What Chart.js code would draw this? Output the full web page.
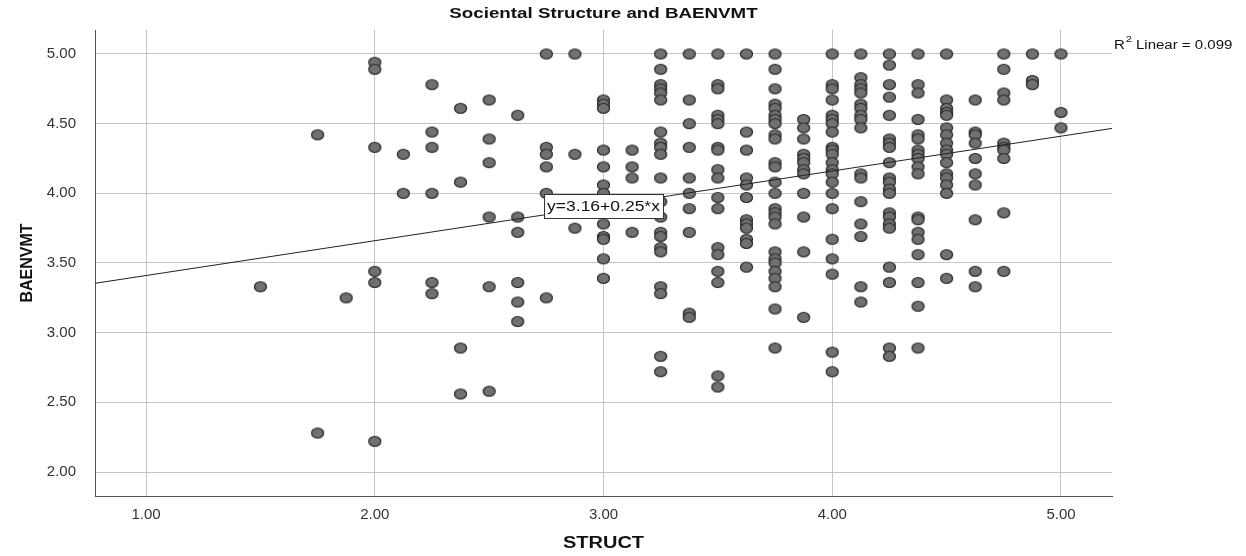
<!DOCTYPE html>
<html lang="en">
<head>
    <meta charset="UTF-8">
    <title>Sociental Structure and BAENVMT</title>
    <script src="https://cdn.jsdelivr.net/npm/chart.js"></script>
    <style>
        body { margin: 0; background: #ffffff; }
        canvas { display: block; }
    </style>
</head>
<body>
    <canvas id="grafico" width="1246" height="556"></canvas>

    <script>
        // STRUCT levels and the BAENVMT scores seen at each level
        const structLevels = [1.5, 1.75, 1.875, 2.0, 2.125, 2.25, 2.375, 2.5, 2.625, 2.75, 2.875,
            3.0, 3.125, 3.25, 3.375, 3.5, 3.625, 3.75, 3.875, 4.0, 4.125, 4.25, 4.375, 4.5,
            4.625, 4.75, 4.875, 5.0];
        const baenvmtByLevel = [
            [3.33],
            [4.42, 2.28],
            [3.25],
            [4.94, 4.89, 4.33, 3.44, 3.36, 2.22],
            [4.28, 4.00],
            [4.78, 4.44, 4.33, 4.00, 3.36, 3.28],
            [4.61, 4.08, 2.89, 2.56],
            [4.67, 4.39, 4.22, 3.83, 3.33, 2.58],
            [4.56, 3.83, 3.72, 3.36, 3.22, 3.08],
            [5.00, 4.33, 4.28, 4.19, 4.00, 3.25],
            [5.00, 4.28, 3.75],
            [4.67, 4.64, 4.61, 4.31, 4.19, 4.06, 4.00, 3.78, 3.69, 3.67, 3.53, 3.39],
            [4.31, 4.19, 4.11, 3.72],
            [5.00, 4.89, 4.78, 4.75, 4.72, 4.67, 4.44, 4.36, 4.33, 4.28, 4.11, 3.94, 3.83, 3.72, 3.69, 3.61, 3.58, 3.33, 3.28, 2.83, 2.72],
            [5.00, 4.67, 4.50, 4.33, 4.11, 4.00, 3.89, 3.72, 3.14, 3.11],
            [5.00, 4.78, 4.75, 4.56, 4.53, 4.50, 4.33, 4.31, 4.17, 4.11, 3.97, 3.89, 3.61, 3.56, 3.44, 3.36, 2.69, 2.61],
            [5.00, 4.44, 4.31, 4.11, 4.06, 3.97, 3.81, 3.78, 3.75, 3.67, 3.64, 3.47],
            [5.00, 4.89, 4.75, 4.64, 4.61, 4.56, 4.53, 4.50, 4.42, 4.39, 4.22, 4.19, 4.08, 4.00, 3.89, 3.86, 3.83, 3.78, 3.58, 3.53, 3.50, 3.44, 3.39, 3.33, 3.17, 2.89],
            [4.53, 4.47, 4.39, 4.28, 4.25, 4.22, 4.17, 4.14, 4.00, 3.83, 3.58, 3.11],
            [5.00, 4.78, 4.75, 4.67, 4.56, 4.53, 4.50, 4.44, 4.33, 4.31, 4.28, 4.22, 4.17, 4.14, 4.08, 4.00, 3.89, 3.67, 3.53, 3.42, 2.86, 2.72],
            [5.00, 4.83, 4.78, 4.75, 4.72, 4.64, 4.61, 4.56, 4.53, 4.47, 4.14, 4.11, 3.94, 3.78, 3.69, 3.33, 3.22],
            [5.00, 4.92, 4.78, 4.69, 4.56, 4.39, 4.36, 4.33, 4.22, 4.11, 4.08, 4.03, 4.00, 3.86, 3.83, 3.78, 3.75, 3.47, 3.36, 2.89, 2.83],
            [5.00, 4.78, 4.72, 4.53, 4.42, 4.39, 4.31, 4.28, 4.25, 4.19, 4.14, 3.83, 3.81, 3.72, 3.67, 3.56, 3.36, 3.19, 2.89],
            [5.00, 4.67, 4.61, 4.58, 4.56, 4.47, 4.42, 4.36, 4.31, 4.28, 4.22, 4.14, 4.11, 4.06, 4.00, 3.56, 3.39],
            [4.67, 4.44, 4.42, 4.36, 4.25, 4.14, 4.06, 3.81, 3.44, 3.33],
            [5.00, 4.89, 4.72, 4.67, 4.36, 4.33, 4.31, 4.25, 3.86, 3.44],
            [5.00, 4.81, 4.78],
            [5.00, 4.58, 4.47]
        ];

        // fit line as printed on the chart
        const intercept = 3.16;
        const slope = 0.25;
        const rSquared = 0.099;

        const xTicks = [1, 2, 3, 4, 5];
        const yTicks = [2.0, 2.5, 3.0, 3.5, 4.0, 4.5, 5.0];
        const xMin = 0.777, xMax = 5.223;
        const yMin = 1.828, yMax = 5.172;

        let puntos = [];
        structLevels.forEach((x, i) => {
            baenvmtByLevel[i].forEach(y => puntos.push({ x: x, y: y }));
        });
        let recta = [xMin, xMax].map(x => ({ x: x, y: intercept + slope * x }));

        const fuente = "Arial, 'Liberation Sans', sans-serif";
        const estirar = 1.25; // the original export is stretched sideways

        // slightly wide dot like the SPSS marker
        let marca = document.createElement("canvas");
        marca.width = 15;
        marca.height = 13;
        let mc = marca.getContext("2d");
        mc.beginPath();
        mc.ellipse(7.5, 6.5, 6, 5, 0, 0, Math.PI * 2);
        mc.fillStyle = "#707070";
        mc.fill();
        mc.lineWidth = 1.2;
        mc.strokeStyle = "#262626";
        mc.stroke();

        function texto(ctx, t, x, y, font, align) {
            ctx.save();
            ctx.font = font;
            ctx.textAlign = align || "center";
            ctx.textBaseline = "middle";
            ctx.translate(x, y);
            ctx.scale(estirar, 1);
            ctx.fillText(t, 0, 0);
            ctx.restore();
        }

        const textos = {
            id: "textos",
            afterDatasetsDraw(chart) {
                let ctx = chart.ctx;
                let xs = chart.scales.x, ys = chart.scales.y;
                ctx.save();

                // equation label sitting on the line at x = 3
                let ex = xs.getPixelForValue(3);
                let ey = ys.getPixelForValue(intercept + slope * 3);
                let eq = "y=" + intercept.toFixed(2) + "+" + slope.toFixed(2) + "*x";
                ctx.font = "14px " + fuente;
                let w = Math.round(ctx.measureText(eq).width * estirar + 6);
                let bx = Math.round(ex - w / 2);
                let by = Math.round(ey - 12);
                ctx.fillStyle = "#ffffff";
                ctx.fillRect(bx, by, w, 24);
                ctx.strokeStyle = "#333333";
                ctx.lineWidth = 1;
                ctx.strokeRect(bx + 0.5, by + 0.5, w, 24);
                ctx.fillStyle = "#111111";
                texto(ctx, eq, ex, ey + 1, "14px " + fuente);

                // title
                let cx = (chart.chartArea.left + chart.chartArea.right) / 2;
                texto(ctx, "Sociental Structure and BAENVMT", cx, 14, "bold 15px " + fuente);

                // axis titles
                texto(ctx, "STRUCT", cx, 544, "bold 16px " + fuente);
                ctx.save();
                ctx.translate(28, (chart.chartArea.top + chart.chartArea.bottom) / 2);
                ctx.rotate(-Math.PI / 2);
                ctx.font = "bold 16px " + fuente;
                ctx.textAlign = "center";
                ctx.textBaseline = "middle";
                ctx.fillText("BAENVMT", 0, 0);
                ctx.restore();

                // R squared note
                let rx = chart.chartArea.right + 2;
                texto(ctx, "R", rx, 46, "12px " + fuente, "left");
                ctx.font = "12px " + fuente;
                let rw = ctx.measureText("R").width * estirar;
                texto(ctx, "2", rx + rw + 1, 40, "9px " + fuente, "left");
                texto(ctx, " Linear = " + rSquared.toFixed(3), rx + rw + 7, 46, "12px " + fuente, "left");

                ctx.restore();
            }
        };

        let ctx = document.getElementById("grafico").getContext("2d");
        window.miGrafico = new Chart(ctx, {
            type: "scatter",
            data: {
                datasets: [
                    {
                        type: "line",
                        label: "Linear",
                        data: recta,
                        borderColor: "#222222",
                        borderWidth: 1,
                        pointRadius: 0,
                        fill: false,
                        order: 0
                    },
                    {
                        label: "BAENVMT",
                        data: puntos,
                        pointStyle: marca,
                        pointRadius: 6,
                        order: 1
                    }
                ]
            },
            options: {
                responsive: false,
                animation: false,
                devicePixelRatio: 1,
                layout: { padding: { top: 30, right: 134, left: 0, bottom: 0 } },
                plugins: {
                    legend: { display: false },
                    tooltip: { enabled: false }
                },
                scales: {
                    x: {
                        type: "linear",
                        min: xMin,
                        max: xMax,
                        afterBuildTicks: s => { s.ticks = xTicks.map(v => ({ value: v })); },
                        afterFit: s => { s.height = 60; },
                        ticks: {
                            callback: v => v.toFixed(2),
                            color: "#333333",
                            font: { size: 15, family: fuente },
                            padding: 10,
                            maxRotation: 0
                        },
                        grid: { color: "#c4c4c4", drawTicks: false },
                        border: { color: "#555555", width: 1 }
                    },
                    y: {
                        type: "linear",
                        min: yMin,
                        max: yMax,
                        afterBuildTicks: s => { s.ticks = yTicks.map(v => ({ value: v })); },
                        afterFit: s => { s.width = 95; },
                        ticks: {
                            callback: v => v.toFixed(2),
                            color: "#333333",
                            font: { size: 15, family: fuente },
                            padding: 19
                        },
                        grid: { color: "#c4c4c4", drawTicks: false },
                        border: { color: "#555555", width: 1 }
                    }
                }
            },
            plugins: [textos]
        });
    </script>
</body>
</html>
